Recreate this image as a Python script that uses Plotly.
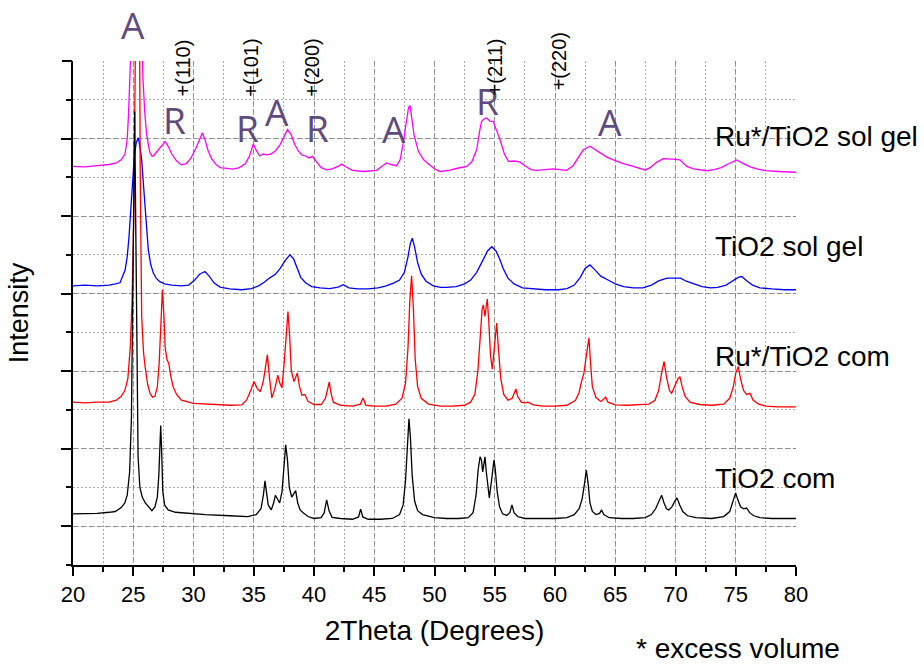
import plotly.graph_objects as go

# ---------------- data ----------------
x_tio2_com = [20, 21, 22, 23, 23.5, 24.0, 24.3, 24.5, 24.7, 24.85, 24.95, 25.05, 25.12, 25.2, 25.3, 25.4, 25.55, 25.75,
              26.0, 26.3, 26.55, 26.8, 27.0, 27.12, 27.2, 27.28, 27.36, 27.45, 27.6, 27.9, 28.5, 29.5, 31, 33, 34.5,
              35.2, 35.6, 35.8, 35.93, 36.05, 36.2, 36.45, 36.65, 36.8, 36.95, 37.15, 37.35, 37.5, 37.65, 37.8, 37.95,
              38.15, 38.35, 38.48, 38.65, 38.85, 39.1, 39.5, 40.0, 40.6, 40.85, 41.05, 41.25, 41.5, 42.2, 43.2, 43.7,
              43.87, 44.05, 44.5, 45.5, 46.5, 47.1, 47.4, 47.6, 47.75, 47.88, 48.0, 48.15, 48.35, 48.6, 49.0, 50, 51,
              52, 52.8, 53.2, 53.45, 53.62, 53.78, 53.9, 54.0, 54.1, 54.19, 54.3, 54.45, 54.55, 54.7, 54.85, 54.94,
              55.05, 55.2, 55.4, 55.65, 56.0, 56.25, 56.43, 56.6, 56.9, 57.5, 58.5, 60, 61, 61.6, 62.0, 62.25, 62.45,
              62.6, 62.75, 62.9, 63.1, 63.4, 63.7, 63.87, 64.05, 64.5, 65.5, 66.5, 67.5, 68.0, 68.35, 68.6, 68.85,
              69.05, 69.25, 69.45, 69.7, 69.95, 70.13, 70.35, 70.6, 71.0, 71.7, 73, 74, 74.5, 74.8, 74.99, 75.15, 75.4,
              75.65, 75.9, 76.15, 76.5, 77, 78, 79, 80]
y_tio2_com = [1.32, 1.33, 1.33, 1.36, 1.38, 1.48, 1.6, 1.8, 2.4, 3.8, 6.5, 10.5, 11.7, 9.0, 4.8, 2.8, 2.0, 1.75,
              1.6, 1.48, 1.4, 1.5, 1.75, 2.3, 3.0, 3.6, 2.9, 1.9, 1.55, 1.42, 1.36, 1.33, 1.3, 1.27, 1.25,
              1.3, 1.45, 1.8, 2.17, 1.9, 1.55, 1.42, 1.6, 1.8, 1.72, 1.6, 1.9, 2.5, 3.1, 2.7, 2.0,
              1.75, 1.85, 1.92, 1.6, 1.42, 1.35, 1.25, 1.2, 1.22, 1.35, 1.68, 1.4, 1.23, 1.2, 1.18, 1.24,
              1.44, 1.24, 1.18, 1.18, 1.2, 1.3, 1.55, 2.2, 3.2, 3.77, 3.3, 2.3, 1.65, 1.4, 1.3, 1.22, 1.2,
              1.2, 1.22, 1.35, 1.8, 2.45, 2.79, 2.7, 2.4, 2.65, 2.79, 2.4, 1.9, 1.73, 2.1, 2.6, 2.71,
              2.45, 1.9, 1.5, 1.32, 1.28, 1.35, 1.55, 1.35, 1.25, 1.2, 1.2, 1.2, 1.22, 1.3, 1.45, 1.7, 2.1,
              2.45, 2.1, 1.6, 1.38, 1.3, 1.33, 1.42, 1.3, 1.22, 1.2, 1.2, 1.22, 1.3, 1.45, 1.65, 1.8,
              1.6, 1.45, 1.42, 1.5, 1.65, 1.73, 1.55, 1.38, 1.27, 1.22, 1.2, 1.25, 1.38, 1.65, 1.86, 1.7, 1.5,
              1.45, 1.47, 1.35, 1.27, 1.22, 1.2, 1.2, 1.2]

x_ru_com = [20, 21, 22, 23, 23.6, 24.0, 24.3, 24.55, 24.75, 24.9, 25.05, 25.15, 25.25, 25.37, 25.48, 25.58, 25.7,
            25.85, 25.98, 26.2, 26.39, 26.6, 26.8, 27.0, 27.15, 27.3, 27.42, 27.55, 27.65, 27.8, 27.95, 28.1, 28.3,
            28.6, 29.0, 30, 31, 32, 33, 34, 34.4, 34.75, 35.02, 35.3, 35.55, 35.8, 36.0, 36.13, 36.3, 36.5, 36.75,
            37.0, 37.15, 37.34, 37.55, 37.72, 37.84, 37.98, 38.12, 38.34, 38.5, 38.62, 38.8, 39.0, 39.25, 39.5, 40,
            40.6, 40.95, 41.15, 41.27, 41.4, 41.6, 42.2, 43.2, 43.85, 44.07, 44.3, 45, 46, 46.8, 47.3, 47.6, 47.8,
            47.95, 48.1, 48.25, 48.4, 48.6, 48.9, 49.5, 50.5, 51.5, 52.5, 53.0, 53.35, 53.6, 53.8, 53.95, 54.05,
            54.19, 54.3, 54.38, 54.5, 54.65, 54.8, 54.95, 55.05, 55.16, 55.3, 55.5, 55.75, 56.1, 56.45, 56.62, 56.76,
            56.9, 57.2, 57.5, 57.76, 58.2, 59, 60, 61, 61.7, 62.0, 62.2, 62.4, 62.6, 62.72, 62.82, 62.95, 63.1, 63.4,
            63.8, 64.05, 64.2, 64.4, 65, 66, 67, 67.8, 68.3, 68.6, 68.85, 69.05, 69.25, 69.5, 69.68, 69.95, 70.2,
            70.37, 70.55, 70.8, 71.2, 72, 73, 74, 74.5, 74.8, 75.0, 75.21, 75.4, 75.65, 75.9, 76.18, 76.45, 76.9,
            77.5, 78.5, 80]
y_ru_com = [4.2, 4.18, 4.2, 4.2, 4.25, 4.35, 4.5, 4.8, 5.6, 6.8, 9.0, 13, 18, 20, 17, 10, 6.4,
            5.5, 5.12, 4.65, 4.43, 4.33, 4.35, 4.6, 5.2, 6.2, 7.1, 6.4, 5.6, 5.3, 5.2, 4.9, 4.6,
            4.4, 4.25, 4.17, 4.15, 4.13, 4.12, 4.13, 4.25, 4.5, 4.73, 4.55, 4.47, 4.75, 5.2, 5.42, 4.85, 4.31, 4.55,
            4.9, 4.7, 4.57, 5.3, 6.2, 6.54, 5.9, 5.0, 4.73, 4.85, 4.95, 4.6, 4.38, 4.4, 4.22, 4.14,
            4.14, 4.3, 4.6, 4.72, 4.45, 4.2, 4.12, 4.1, 4.15, 4.31, 4.12, 4.1, 4.1, 4.15, 4.3, 4.7, 5.6,
            6.8, 7.46, 6.6, 5.3, 4.6, 4.3, 4.15, 4.1, 4.1, 4.12, 4.2, 4.4, 5.0, 5.9, 6.6, 6.71,
            6.41, 6.7, 6.86, 6.3, 5.4, 5.05, 5.6, 6.0, 6.24, 5.6, 4.8, 4.4, 4.25, 4.3, 4.45, 4.54,
            4.35, 4.2, 4.18, 4.2, 4.13, 4.1, 4.1, 4.12, 4.25, 4.45, 4.73, 4.95, 5.4, 5.7, 5.86, 5.2, 4.6, 4.32,
            4.22, 4.28, 4.33, 4.2, 4.13, 4.12, 4.13, 4.15, 4.25, 4.5, 4.95, 5.25, 4.85, 4.5, 4.43, 4.6, 4.8,
            4.86, 4.6, 4.35, 4.2, 4.14, 4.12, 4.15, 4.3, 4.6, 4.95, 5.12, 4.8, 4.5, 4.4, 4.43, 4.25, 4.15,
            4.1, 4.08, 4.08]

x_tio2_sg = [20, 21, 22, 23, 23.5, 23.9, 24.32, 24.5, 24.65, 24.87, 25.09, 25.25, 25.42, 25.55, 25.7, 25.85, 25.98,
             26.1, 26.25, 26.45, 26.67, 26.9, 27.2, 27.6, 28.2, 29, 29.6, 30.1, 30.5, 30.95, 31.3, 31.7, 32.2, 33,
             34, 34.8, 35.4, 35.9, 36.3, 36.8, 37.2, 37.6, 38.0, 38.3, 38.6, 38.9, 39.3, 39.8, 40.5, 41.3, 42.0,
             42.43, 42.9, 43.6, 44.5, 45.3, 46.0, 46.6, 47.1, 47.5, 47.8, 48.0, 48.16, 48.35, 48.6, 48.9, 49.3,
             49.9, 50.5, 51, 51.8, 52.5, 53.0, 53.5, 54.0, 54.4, 54.75, 55.1, 55.4, 55.7, 56.1, 56.6, 57.3, 58.2,
             59.2, 60.3, 61.0, 61.6, 62.1, 62.5, 62.9, 63.3, 63.8, 64.4, 65.0, 65.7, 66.5, 67.3, 68.0, 68.6, 69.3,
             69.9, 70.4, 70.9, 71.5, 72.2, 72.9, 73.5, 74.2, 74.8, 75.2, 75.5, 75.9, 76.4, 77, 78, 79, 80]
y_tio2_sg = [7.2, 7.22, 7.2, 7.22, 7.25, 7.28, 7.6, 7.95, 8.47, 9.42, 10.54, 10.9, 11.02, 10.8, 10.45, 9.8, 9.16,
             8.6, 8.13, 7.75, 7.53, 7.4, 7.31, 7.25, 7.22, 7.2, 7.22, 7.35, 7.5, 7.57, 7.45, 7.28, 7.17, 7.12,
             7.1, 7.13, 7.2, 7.3, 7.4, 7.5, 7.65, 7.85, 8.0, 7.9, 7.65, 7.42, 7.28, 7.18, 7.15, 7.13, 7.17,
             7.23, 7.15, 7.12, 7.12, 7.15, 7.2, 7.27, 7.35, 7.55, 7.95, 8.3, 8.43, 8.2, 7.8, 7.5, 7.32,
             7.2, 7.16, 7.16, 7.18, 7.25, 7.35, 7.55, 7.85, 8.1, 8.21, 8.1, 7.9, 7.65, 7.4, 7.25, 7.15, 7.12,
             7.1, 7.1, 7.13, 7.22, 7.42, 7.65, 7.74, 7.62, 7.45, 7.35, 7.25, 7.18, 7.15, 7.15, 7.22, 7.33, 7.4,
             7.4, 7.4, 7.32, 7.25, 7.18, 7.15, 7.16, 7.22, 7.33, 7.42, 7.44, 7.33, 7.22, 7.15, 7.12, 7.1, 7.1]

x_ru_sg = [20, 21, 22, 23, 23.6, 24.0, 24.32, 24.5, 24.6, 24.7, 24.8, 24.95, 25.15, 25.35, 25.55, 25.7, 25.8, 25.95,
           26.1, 26.25, 26.39, 26.55, 26.67, 26.85, 27.1, 27.4, 27.65, 27.9, 28.2, 28.6, 29.0, 29.4, 29.8, 30.2, 30.5,
           30.73, 30.95, 31.2, 31.5, 31.9, 32.2, 32.8, 33.3, 33.8, 34.3, 34.65, 34.96, 35.2, 35.5, 35.8, 36.07, 36.4,
           36.8, 37.2, 37.5, 37.8, 38.1, 38.4, 38.7, 38.98, 39.3, 39.6, 39.86, 40.2, 40.6, 41.05, 41.5, 42.0, 42.3,
           42.6, 43.2, 44.1, 44.7, 45.2, 45.6, 46.03, 46.4, 46.86, 47.15, 47.41, 47.65, 47.85, 47.97, 48.1, 48.3,
           48.66, 49.1, 49.6, 50.0, 50.46, 51.2, 52.0, 52.67, 53.1, 53.5, 53.75, 53.9, 54.1, 54.33, 54.6, 54.88,
           55.1, 55.44, 55.8, 56.13, 56.6, 57.1, 57.6, 58.0, 58.48, 59.2, 59.86, 60.4, 60.97, 61.5, 61.9, 62.35,
           62.9, 63.3, 63.8, 64.3, 64.84, 65.6, 66.5, 67.0, 67.47, 67.9, 68.4, 68.99, 69.5, 70.0, 70.37, 70.93,
           71.5, 72.03, 72.59, 73.2, 73.8, 74.4, 75.08, 75.6, 76.2, 76.74, 77.5, 78.5, 79.3, 80]
y_ru_sg = [10.28, 10.27, 10.3, 10.33, 10.37, 10.45, 10.6, 11.0, 11.57, 12.4, 13.3, 15.5, 17.5, 18, 16.5, 14.0, 12.6, 11.7,
           11.14, 10.85, 10.63, 10.55, 10.55, 10.62, 10.72, 10.85, 10.92, 10.8, 10.6, 10.42, 10.32, 10.35, 10.5, 10.75, 11.0,
           11.14, 10.98, 10.7, 10.48, 10.32, 10.25, 10.22, 10.21, 10.25, 10.35, 10.55, 10.86, 10.7, 10.55, 10.6, 10.58, 10.6,
           10.68, 10.85, 11.05, 11.23, 11.1, 10.85, 10.68, 10.58, 10.55, 10.5, 10.54, 10.4, 10.25, 10.19, 10.22, 10.28, 10.34,
           10.28, 10.18, 10.15, 10.16, 10.18, 10.28, 10.37, 10.33, 10.3, 10.45, 10.88, 11.4, 11.8, 11.85, 11.6, 11.1,
           10.67, 10.45, 10.32, 10.22, 10.15, 10.18, 10.24, 10.28, 10.4, 10.71, 11.2, 11.44, 11.5, 11.53, 11.45, 11.44,
           11.25, 10.97, 10.6, 10.41, 10.42, 10.39, 10.28, 10.2, 10.18, 10.2, 10.22, 10.2, 10.18, 10.3, 10.5, 10.71,
           10.8, 10.72, 10.62, 10.52, 10.45, 10.36, 10.28, 10.23, 10.19, 10.25, 10.38, 10.48, 10.46, 10.46, 10.45, 10.28,
           10.22, 10.2, 10.17, 10.2, 10.25, 10.35, 10.45, 10.36, 10.27, 10.22, 10.17, 10.15, 10.14, 10.13]

series_names = ["Ru*/TiO2 sol gel", "TiO2 sol gel", "Ru*/TiO2 com", "TiO2 com"]
series_colors = ["#ff00ff", "#0000ff", "#ff0000", "#000000"]
series_label_y = [11.04, 8.21, 5.39, 2.24]

# phase markers (A = anatase, R = rutile); the first one sits above the plot area (paper y)
phase_letters = ["R", "R", "A", "R", "A", "R", "A"]
phase_x = [28.46, 34.52, 36.89, 40.33, 46.6, 54.36, 64.56]
phase_y = [11.50, 11.28, 11.71, 11.28, 11.27, 11.99, 11.44]
top_letter = "A"
top_letter_x = 24.94

hkl_labels = ["+(110)", "+(101)", "+(200)", "+(211)", "+(220)"]
hkl_x = [29.09, 34.75, 39.81, 55.02, 60.33]
hkl_y = [12.82, 12.82, 12.82, 12.86, 12.99]

x_ticks = [20, 25, 30, 35, 40, 45, 50, 55, 60, 65, 70, 75, 80]
y_major_grid = [1, 3, 5, 7, 9, 11]
y_top_tick = [13]

# ---------------- figure ----------------
fig = go.Figure()
xs = [x_ru_sg, x_tio2_sg, x_ru_com, x_tio2_com]
ys = [y_ru_sg, y_tio2_sg, y_ru_com, y_tio2_com]
for xv, yv, name, col in zip(xs, ys, series_names, series_colors):
    fig.add_trace(go.Scatter(x=xv, y=yv, mode="lines", name=name,
                             line=dict(color=col, width=1.3)))
# empty helper trace so the overlaying axis (top tick only) is drawn
fig.add_trace(go.Scatter(x=[], y=[], yaxis="y2", showlegend=False, hoverinfo="skip"))

FONT = "Liberation Sans, Arial, sans-serif"
PURPLE = "#5f4b7e"
annotations = []
for name, yl in zip(series_names, series_label_y):
    annotations.append(dict(x=73.11, y=yl, xref="x", yref="y", text=name, showarrow=False,
                            xanchor="left", yanchor="middle",
                            font=dict(family=FONT, size=28, color="black")))
for t, xv, yv in zip(phase_letters, phase_x, phase_y):
    annotations.append(dict(x=xv, y=yv, xref="x", yref="y", text=t, showarrow=False,
                            xanchor="center", yanchor="middle",
                            font=dict(family="Open Sans, sans-serif", size=37, color=PURPLE)))
annotations.append(dict(x=top_letter_x, y=1.0734, xref="x", yref="paper", text=top_letter, showarrow=False,
                        xanchor="center", yanchor="middle",
                        font=dict(family="Open Sans, sans-serif", size=37, color=PURPLE)))
for t, xv, yv in zip(hkl_labels, hkl_x, hkl_y):
    annotations.append(dict(x=xv, y=yv, xref="x", yref="y", text=t, showarrow=False, textangle=-90,
                            xanchor="center", yanchor="middle",
                            font=dict(family=FONT, size=20, color="black")))
annotations.append(dict(x=0.92, y=-0.166, xref="paper", yref="paper", text="* excess volume",
                        showarrow=False, xanchor="center", yanchor="middle",
                        font=dict(family=FONT, size=28, color="black")))

fig.update_layout(
    width=924, height=667,
    margin=dict(l=73, r=128, t=61, b=102, autoexpand=False),
    plot_bgcolor="white", paper_bgcolor="white",
    showlegend=False,
    font=dict(family=FONT, color="black"),
    annotations=annotations,
    xaxis=dict(
        range=[20, 80], tickvals=x_ticks, ticks="outside", ticklen=9, tickwidth=2, tickcolor="black",
        showline=True, linewidth=2, linecolor="black", zeroline=False,
        showgrid=True, gridcolor="#8c8c8c", gridwidth=1, griddash="4px,4px",
        minor=dict(dtick=2.5, tick0=20, ticks="outside", ticklen=5, tickwidth=2, tickcolor="black",
                   showgrid=True, gridcolor="#ababab", gridwidth=1, griddash="2px,2px"),
        tickfont=dict(family=FONT, size=22, color="black"),
        title=dict(text="2Theta (Degrees)", font=dict(family=FONT, size=28, color="black"), standoff=14),
    ),
    yaxis=dict(
        range=[0, 13], tickvals=y_major_grid, ticks="outside", ticklen=10, tickwidth=2, tickcolor="black",
        showticklabels=False,
        showline=True, linewidth=2, linecolor="black", zeroline=False,
        showgrid=True, gridcolor="#8c8c8c", gridwidth=1, griddash="4px,4px",
        minor=dict(dtick=1, tick0=0, ticks="outside", ticklen=5, tickwidth=2, tickcolor="black",
                   showgrid=True, gridcolor="#ababab", gridwidth=1, griddash="2px,2px"),
        title=dict(text="Intensity", font=dict(family=FONT, size=27, color="black"), standoff=25),
    ),
    yaxis2=dict(
        overlaying="y", side="left", range=[0, 13], tickvals=y_top_tick, ticks="outside", ticklen=10,
        tickwidth=2, tickcolor="black", showticklabels=False, showgrid=False, showline=False,
        zeroline=False,
    ),
)

fig.write_html("out.html")
